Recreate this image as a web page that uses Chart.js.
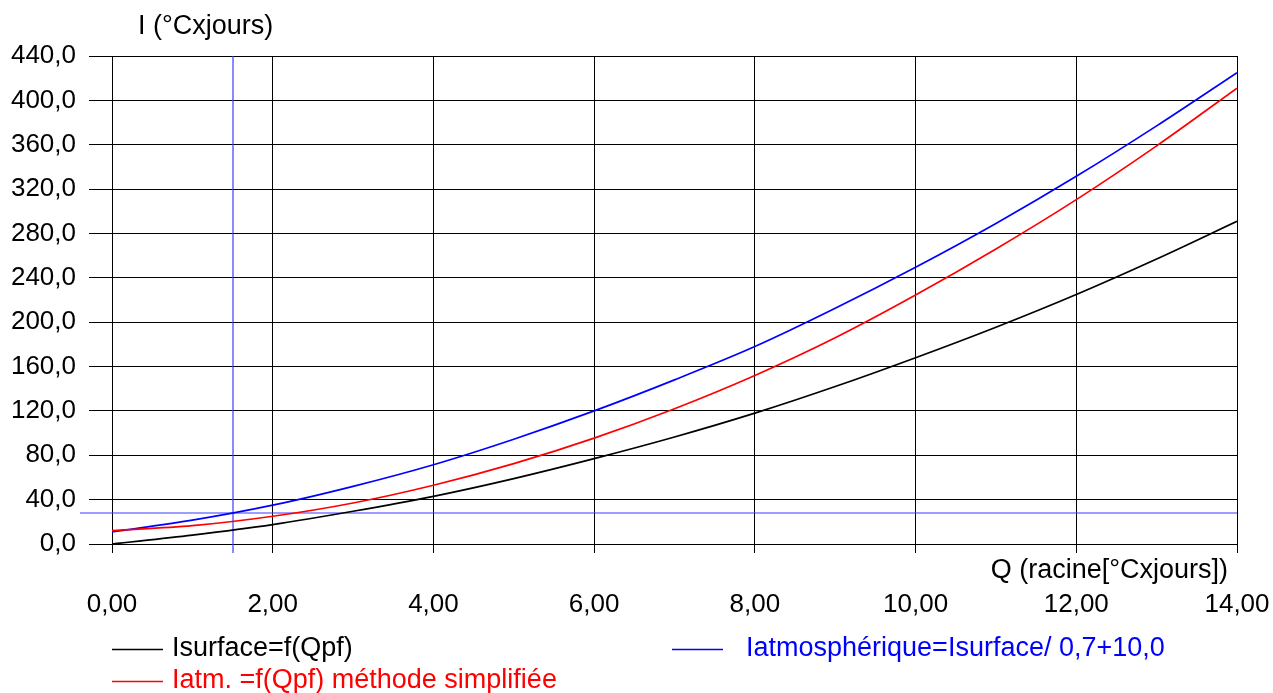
<!DOCTYPE html>
<html>
<head>
<meta charset="utf-8">
<script src="https://cdn.jsdelivr.net/npm/chart.js@4"></script>
<style>
  html, body { margin: 0; padding: 0; background: #fff; }
  #wrap { width: 1273px; height: 693px; position: relative; }
</style>
</head>
<body>
<div id="wrap"><canvas id="c"></canvas></div>
<script>
// ─── データ ─────────────────────────────
const qValues        = [0, 1, 2, 3, 4, 5, 6, 7, 8, 9, 10, 11, 12, 13, 14];
const iSurface       = [0, 8, 17.5, 29.5, 43, 59, 77, 96.5, 118, 142, 168, 195.5, 225, 257, 291];
const iAtmospherique = [11, 21.5, 35, 52, 71.5, 94.5, 120, 148, 178, 212.5, 249.5, 289, 331.5, 377, 425];
const iAtmSimplifiee = [12, 16.5, 25, 37, 53, 72.5, 95.5, 122, 152, 186, 224.5, 266, 310.5, 359, 411];

const qRef = 1.5;   // ligne verticale
const iRef = 28;    // ligne horizontale

const seriesNames = [
  'Isurface=f(Qpf)',
  'Iatmosphérique=Isurface/ 0,7+10,0',
  'Iatm. =f(Qpf) méthode simplifiée',
];
const seriesColors = ['#000000', '#0000ff', '#ff0000'];

const yTitle = 'I (°Cxjours)';
const xTitle = 'Q (racine[°Cxjours])';

const FONT = '"Liberation Sans", Arial, sans-serif';

const pts = arr => qValues.map((q, i) => ({ x: q, y: arr[i] }));

// ─── 参照線・タイトル・凡例 ──────────────
const refLines = {
  id: 'refLines',
  beforeDatasetsDraw(chart) {
    const { ctx, chartArea: a, scales: { x, y } } = chart;
    ctx.save();
    ctx.strokeStyle = '#3c3cff';
    ctx.lineWidth = 1.2;
    const px = Math.round(x.getPixelForValue(qRef));
    ctx.beginPath();
    ctx.moveTo(px, a.top);
    ctx.lineTo(px, a.bottom + 9);
    ctx.stroke();
    const py = Math.round(y.getPixelForValue(iRef));
    ctx.beginPath();
    ctx.moveTo(a.left - 32, py);
    ctx.lineTo(a.right, py);
    ctx.stroke();
    ctx.restore();
  },
};

const decorations = {
  id: 'decorations',
  afterDraw(chart) {
    const { ctx, chartArea: a } = chart;
    ctx.save();
    ctx.font = '27px ' + FONT;
    ctx.textBaseline = 'middle';
    ctx.fillStyle = '#000';
    ctx.textAlign = 'left';
    ctx.fillText(yTitle, 138, 27);
    ctx.textAlign = 'right';
    ctx.fillText(xTitle, a.right - 9, 571);

    // légende
    const items = [
      { i: 0, x: 112, y: 649, tx: 172 },
      { i: 1, x: 672, y: 649, tx: 746 },
      { i: 2, x: 112, y: 681, tx: 172 },
    ];
    ctx.textAlign = 'left';
    items.forEach(it => {
      ctx.strokeStyle = seriesColors[it.i];
      ctx.lineWidth = 1.5;
      ctx.beginPath();
      ctx.moveTo(it.x, it.y + 0.5);
      ctx.lineTo(it.x + 51, it.y + 0.5);
      ctx.stroke();
      ctx.fillStyle = seriesColors[it.i];
      ctx.fillText(seriesNames[it.i], it.tx, it.y);
    });
    ctx.restore();
  },
};

const lineDs = (data, i) => ({
  label: seriesNames[i],
  data: pts(data),
  borderColor: seriesColors[i],
  backgroundColor: seriesColors[i],
  borderWidth: 1.7,
  pointRadius: 0,
  cubicInterpolationMode: 'monotone',
  fill: false,
});

new Chart(document.getElementById('c'), {
  type: 'line',
  data: {
    datasets: [
      lineDs(iSurface, 0),
      lineDs(iAtmSimplifiee, 2),
      lineDs(iAtmospherique, 1),
    ],
  },
  options: {
    responsive: true,
    maintainAspectRatio: false,
    animation: false,
    layout: { padding: { top: 56, right: 36, bottom: 0, left: 0 } },
    plugins: {
      legend: { display: false },
      tooltip: { enabled: false },
    },
    scales: {
      x: {
        type: 'linear', min: 0, max: 14,
        ticks: {
          stepSize: 2, color: '#000', padding: 36,
          font: { family: FONT, size: 26 },
          callback: v => v.toFixed(2).replace('.', ','),
          maxRotation: 0,
        },
        grid: { color: '#000', lineWidth: 1, tickLength: 9 },
        border: { color: '#000' },
        afterFit: s => { s.height = 149; s.paddingRight = 0; s.paddingLeft = 0; },
      },
      y: {
        min: 0, max: 440,
        ticks: {
          stepSize: 40, color: '#000', padding: 13,
          font: { family: FONT, size: 26 },
          callback: v => v.toFixed(1).replace('.', ','),
        },
        grid: { color: '#000', lineWidth: 1, tickLength: 23 },
        border: { color: '#000' },
        afterFit: s => { s.width = 112; s.paddingTop = 0; s.paddingBottom = 0; },
      },
    },
  },
  plugins: [refLines, decorations],
});
</script>
</body>
</html>
